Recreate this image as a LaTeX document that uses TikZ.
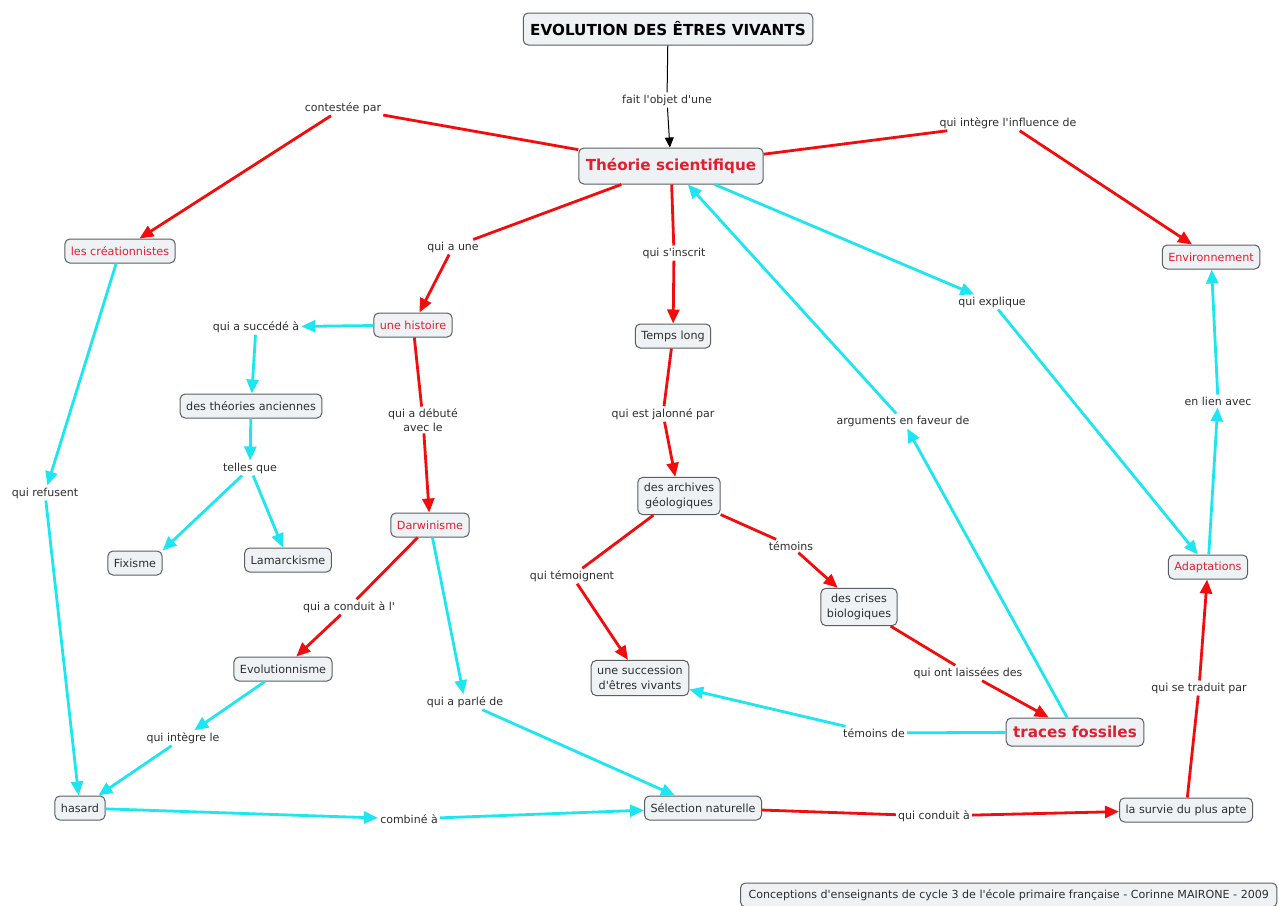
\documentclass[tikz,border=0pt]{standalone}
\usepackage{fontspec}
\setmainfont{DejaVu Sans}[Ligatures=TeXOff]
\usetikzlibrary{arrows.meta}

\definecolor{boxfill}{HTML}{EEF2F5}
\definecolor{boxline}{HTML}{5A5F63}
\definecolor{lienrouge}{HTML}{F20C0C}
\definecolor{liencyan}{HTML}{1EE6F0}
\definecolor{texterouge}{HTML}{E0202E}
\definecolor{textegris}{HTML}{2E2E2E}

\begin{document}
\begin{tikzpicture}[x=1pt,y=-1pt]
\tikzset{ >={Triangle[length=14pt,width=12pt]},
  concept/.style={draw=boxline, fill=boxfill, rounded corners=5pt, line width=1pt,
    inner xsep=6pt, inner ysep=3pt, minimum height=24pt, align=center, text=textegris,
    font=\fontsize{11.2}{14.5}\selectfont},
  deux/.style={inner ysep=6pt},
  rouge/.style={text=texterouge},
  grand/.style={font=\fontsize{15.2}{18}\selectfont\bfseries, inner xsep=7pt},
  lien/.style={text=textegris, inner sep=2pt, align=center, font=\fontsize{11}{13.5}\selectfont},
  rr/.style={lienrouge, line width=2.8pt},
  cc/.style={liencyan, line width=2.8pt},
}

\fill [white] (0,0) rectangle (1279,905);
\useasboundingbox (0,0) rectangle (1279,905);

% les concepts
\node [concept, grand, minimum height=32pt, text=black] (titre) at (668,29) {EVOLUTION DES ÊTRES VIVANTS};
\node [concept, grand, rouge, minimum height=36pt] (theorie) at (671,166) {Théorie scientifique};
\node [concept, rouge] (creat) at (120,251) {les créationnistes};
\node [concept, rouge] (environ) at (1211,257) {Environnement};
\node [concept, rouge] (histoire) at (413,325) {une histoire};
\node [concept] (temps) at (673,336) {Temps long};
\node [concept] (anciennes) at (251,406) {des théories anciennes};
\node [concept, deux] (archives) at (679,496) {des archives\\géologiques};
\node [concept, rouge] (darwin) at (430,525) {Darwinisme};
\node [concept] (fixisme) at (135,563) {Fixisme};
\node [concept] (lamarck) at (288,560) {Lamarckisme};
\node [concept, rouge] (adapt) at (1208,567) {Adaptations};
\node [concept, deux] (crises) at (859,607) {des crises\\biologiques};
\node [concept] (evolut) at (283,669) {Evolutionnisme};
\node [concept, deux] (succession) at (640,678) {une succession\\d'êtres vivants};
\node [concept, grand, rouge, minimum height=28pt] (traces) at (1075,732) {traces fossiles};
\node [concept] (hasard) at (80,808) {hasard};
\node [concept] (selection) at (703,808) {Sélection naturelle};
\node [concept] (survie) at (1186,810) {la survie du plus apte};
\node [concept, anchor=west, inner xsep=8pt, font=\fontsize{11.1}{14}\selectfont] (auteur) at (740,895)
  {Conceptions d'enseignants de cycle 3 de l'école primaire française - Corinne MAIRONE - 2009};

% les mots de liaison
\node [lien] (lobjet) at (667,100) {fait l'objet d'une};
\node [lien] (lconteste) at (343,108) {contestée par};
\node [lien] (linfluence) at (1008,123) {qui intègre l'influence de};
\node [lien] (lune) at (453,247) {qui a une};
\node [lien] (linscrit) at (674,253) {qui s'inscrit};
\node [lien] (lexplique) at (992,302) {qui explique};
\node [lien] (lsuccede) at (256,327) {qui a succédé à};
\node [lien] (ldebute) at (423,420) {qui a débuté\\avec le};
\node [lien] (ljalonne) at (663,414) {qui est jalonné par};
\node [lien] (larguments) at (903,421) {arguments en faveur de};
\node [lien] (lenlien) at (1218,401) {en lien avec};
\node [lien] (ltelles) at (250,468) {telles que};
\node [lien] (lrefusent) at (45,493) {qui refusent};
\node [lien] (ltemoins) at (791,546) {témoins};
\node [lien] (ltemoignent) at (572,576) {qui témoignent};
\node [lien] (lconduitl) at (349,607) {qui a conduit à l'};
\node [lien] (llaissees) at (968,673) {qui ont laissées des};
\node [lien] (ltraduit) at (1199,688) {qui se traduit par};
\node [lien] (lparle) at (465,702) {qui a parlé de};
\node [lien] (ltemoinsde) at (874,733) {témoins de};
\node [lien] (lintegre) at (183,738) {qui intègre le};
\node [lien] (lcombine) at (409,819) {combiné à};
\node [lien] (lconduit) at (934,816) {qui conduit à};

% liens noirs
\draw [line width=1pt] (titre) -- (lobjet);
\draw [->, line width=1pt, >={Triangle[length=10pt,width=9pt]}] (lobjet) -- (theorie);

% liens rouges
\draw [rr] (theorie) -- (lconteste);
\draw [rr, ->] (lconteste) -- (creat);
\draw [rr] (theorie) -- (linfluence);
\draw [rr, ->] (linfluence) -- (environ);
\draw [rr] (theorie) -- (lune);
\draw [rr, ->] (lune) -- (histoire);
\draw [rr] (theorie) -- (linscrit);
\draw [rr, ->] (linscrit) -- (temps);
\draw [rr] (histoire) -- (ldebute);
\draw [rr, ->] (ldebute) -- (darwin);
\draw [rr] (temps) -- (ljalonne);
\draw [rr, ->] (ljalonne) -- (archives);
\draw [rr] (archives) -- (ltemoins);
\draw [rr, ->] (ltemoins) -- (crises);
\draw [rr] (archives) -- (ltemoignent);
\draw [rr, ->] (ltemoignent) -- (succession);
\draw [rr] (darwin) -- (lconduitl);
\draw [rr, ->] (lconduitl) -- (evolut);
\draw [rr] (crises) -- (llaissees);
\draw [rr, ->] (llaissees) -- (traces);
\draw [rr] (selection) -- (lconduit);
\draw [rr, ->] (lconduit) -- (survie);
\draw [rr] (survie) -- (ltraduit);
\draw [rr, ->] (ltraduit) -- (adapt);

% liens cyan
\draw [cc, ->] (theorie) -- (lexplique);
\draw [cc, ->] (lexplique) -- (adapt);
\draw [cc, ->] (traces) -- (larguments);
\draw [cc, ->] (larguments) -- (theorie);
\draw [cc, ->] (adapt) -- (lenlien);
\draw [cc, ->] (lenlien) -- (environ);
\draw [cc, ->] (creat) -- (lrefusent);
\draw [cc, ->] (lrefusent) -- (hasard);
\draw [cc, ->] (histoire) -- (lsuccede);
\draw [cc, ->] (lsuccede) -- (anciennes);
\draw [cc, ->] (anciennes) -- (ltelles);
\draw [cc, ->] (ltelles) -- (fixisme.north east);
\draw [cc, ->] (ltelles) -- (lamarck);
\draw [cc, ->] (darwin) -- (lparle);
\draw [cc, ->] (lparle) -- (selection);
\draw [cc, ->] (evolut) -- (lintegre);
\draw [cc, ->] (lintegre) -- (hasard);
\draw [cc, ->] (hasard) -- (lcombine);
\draw [cc, ->] (lcombine) -- (selection);
\draw [cc] (traces) -- (ltemoinsde);
\draw [cc, ->] (ltemoinsde) -- (succession);
\end{tikzpicture}
\end{document}
